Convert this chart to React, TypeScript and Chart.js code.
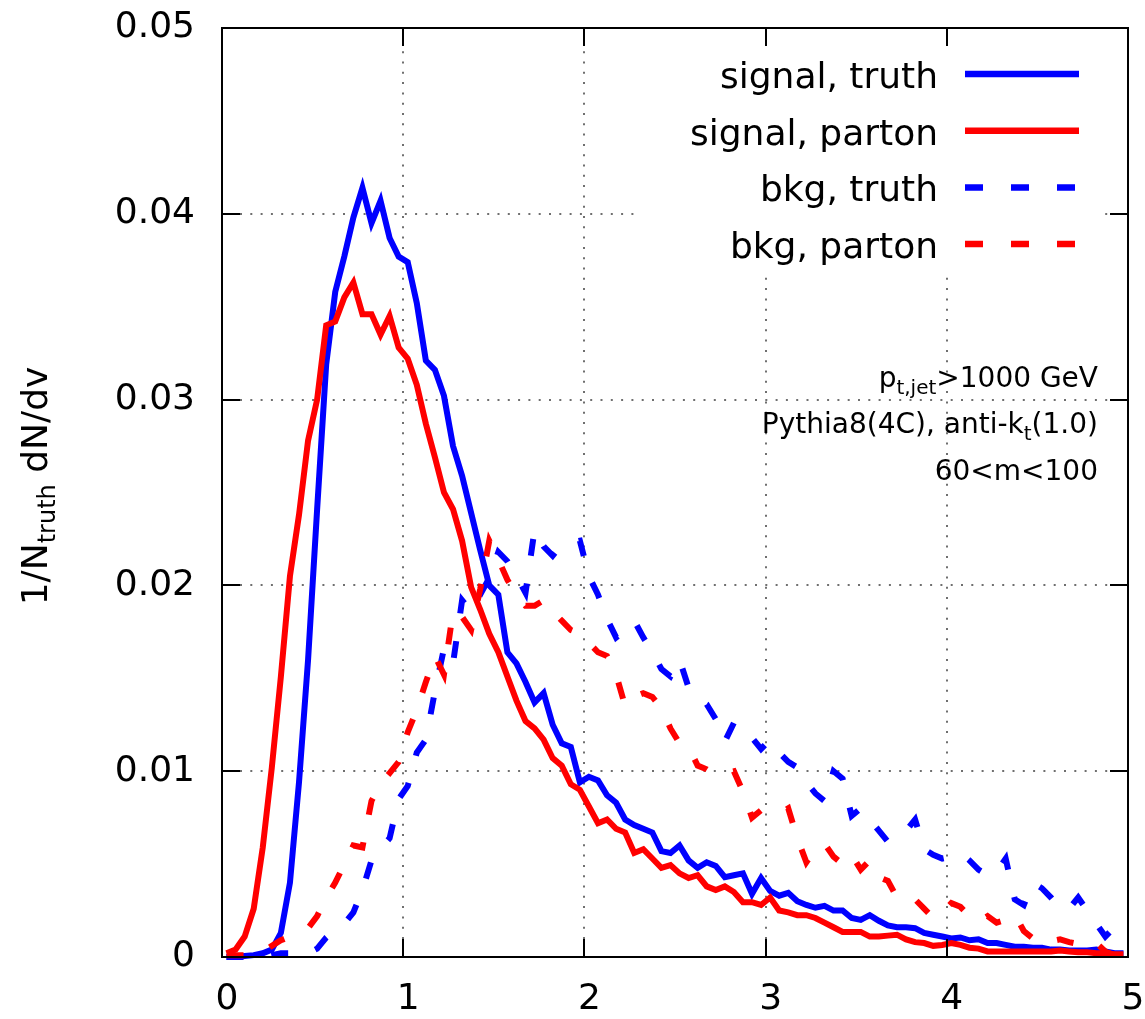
import React, { useEffect, useRef } from "react";
import { Chart, registerables } from "chart.js";

Chart.register(...registerables);

// bin centres of v
const vBins = [
  0.025, 0.075, 0.125, 0.175, 0.225, 0.275, 0.325, 0.375, 0.425, 0.475,
  0.525, 0.575, 0.625, 0.675, 0.725, 0.775, 0.825, 0.875, 0.925, 0.975,
  1.025, 1.075, 1.125, 1.175, 1.225, 1.275, 1.325, 1.375, 1.425, 1.475,
  1.525, 1.575, 1.625, 1.675, 1.725, 1.775, 1.825, 1.875, 1.925, 1.975,
  2.025, 2.075, 2.125, 2.175, 2.225, 2.275, 2.325, 2.375, 2.425, 2.475,
  2.525, 2.575, 2.625, 2.675, 2.725, 2.775, 2.825, 2.875, 2.925, 2.975,
  3.025, 3.075, 3.125, 3.175, 3.225, 3.275, 3.325, 3.375, 3.425, 3.475,
  3.525, 3.575, 3.625, 3.675, 3.725, 3.775, 3.825, 3.875, 3.925, 3.975,
  4.025, 4.075, 4.125, 4.175, 4.225, 4.275, 4.325, 4.375, 4.425, 4.475,
  4.525, 4.575, 4.625, 4.675, 4.725, 4.775, 4.825, 4.875, 4.925, 4.975,
];

const signalTruth = [
  0, 0, 0.00005, 0.0001, 0.0002, 0.0004, 0.0013, 0.004, 0.0094, 0.016,
  0.0241, 0.0319, 0.0358, 0.0377, 0.0398, 0.0414, 0.0395, 0.0407, 0.0387, 0.0377,
  0.0374, 0.0352, 0.0321, 0.0316, 0.0302, 0.0275, 0.0259, 0.0239, 0.0219, 0.02,
  0.0195, 0.0164, 0.0158, 0.0148, 0.0137, 0.0142, 0.0125, 0.0115, 0.0113, 0.0094,
  0.0097, 0.0095, 0.0087, 0.0083, 0.0074, 0.0071, 0.0069, 0.0067, 0.0057, 0.0056,
  0.006, 0.0052, 0.0048, 0.0051, 0.0049, 0.0043, 0.0044, 0.0045, 0.0034, 0.00425,
  0.00355, 0.0033, 0.00345, 0.003, 0.0028, 0.00265, 0.00275, 0.0025, 0.0025, 0.0021,
  0.002, 0.00225, 0.00195, 0.0017, 0.0016, 0.0016, 0.00155, 0.0013, 0.0012, 0.0011,
  0.001, 0.00105, 0.0009, 0.00095, 0.00075, 0.00075, 0.00065, 0.00055, 0.00055, 0.0005,
  0.0005, 0.0004, 0.0004, 0.00035, 0.00035, 0.00035, 0.0004, 0.0003, 0.0002, 0.0002,
];

const signalParton = [
  0.0002, 0.0004, 0.0011, 0.0026, 0.0059, 0.0102, 0.0151, 0.0205, 0.0238, 0.0278,
  0.03, 0.034, 0.0342, 0.0355, 0.0363, 0.0346, 0.0346, 0.0335, 0.0345, 0.0328,
  0.0322, 0.0308, 0.0287, 0.0269, 0.025, 0.0241, 0.0224, 0.0199, 0.0187, 0.0174,
  0.0164, 0.0151, 0.0138, 0.0127, 0.0123, 0.0117, 0.0107, 0.0103, 0.0093, 0.009,
  0.0081, 0.0072, 0.0074, 0.0069, 0.0067, 0.0056, 0.0058, 0.0053, 0.0048, 0.00495,
  0.0045, 0.00425, 0.0044, 0.0038, 0.0036, 0.0038, 0.0035, 0.00295, 0.00295, 0.0028,
  0.0032, 0.0025, 0.0024, 0.00225, 0.00225, 0.0021, 0.00185, 0.0016, 0.00135, 0.00135,
  0.00135, 0.0011, 0.0011, 0.00115, 0.0012, 0.00095, 0.0008, 0.00075, 0.0006, 0.00065,
  0.00075, 0.00065, 0.0005, 0.00045, 0.0003, 0.0003, 0.0003, 0.0003, 0.0003, 0.0003,
  0.0003, 0.0003, 0.00035, 0.0003, 0.00025, 0.00025, 0.0002, 0.0002, 0.00015, 0.00015,
];

const bkgTruth = [
  0, 0, 0, 0, 0, 0.0001, 0.0002, 0.0002, 0.00015, 0.0002,
  0.00045, 0.00105, 0.0015, 0.0018, 0.0024, 0.0036, 0.0052, 0.0058, 0.0064, 0.0085,
  0.0092, 0.011, 0.0117, 0.0143, 0.0166, 0.0158, 0.0192, 0.0186, 0.0195, 0.0204,
  0.0218, 0.0213, 0.0205, 0.0196, 0.023, 0.0221, 0.0216, 0.0222, 0.0223, 0.0224,
  0.0205, 0.0195, 0.0182, 0.0172, 0.0176, 0.0181, 0.0172, 0.0164, 0.0155, 0.0151,
  0.016, 0.0145, 0.0139, 0.0136, 0.0128, 0.0116, 0.0126, 0.0125, 0.0118, 0.0112,
  0.0117, 0.011, 0.0105, 0.0102, 0.0094, 0.0088, 0.0084, 0.01, 0.0096, 0.0076,
  0.008, 0.0074, 0.0068, 0.0062, 0.0065, 0.0068, 0.0074, 0.0058, 0.0055, 0.0053,
  0.0054, 0.0056, 0.0052, 0.0047, 0.0044, 0.0046, 0.0053, 0.0031, 0.0028, 0.004,
  0.0037, 0.0032, 0.0026, 0.0026, 0.0032, 0.0025, 0.0018, 0.0011, 0.0016, 0.0022,
];

const bkgParton = [
  0.0001, 0.0001, 0.0001, 0.0001, 0.0003, 0.0006, 0.0009, 0.0011, 0.0013, 0.00155,
  0.0022, 0.0032, 0.004, 0.005, 0.006, 0.0059, 0.0084, 0.0093, 0.0099, 0.0105,
  0.0121, 0.0133, 0.0148, 0.0162, 0.0152, 0.0186, 0.0183, 0.0176, 0.0198, 0.0224,
  0.0214, 0.0203, 0.0195, 0.0189, 0.0189, 0.0192, 0.0186, 0.0181, 0.0176, 0.0174,
  0.0169, 0.0164, 0.0162, 0.0152, 0.0135, 0.014, 0.0142, 0.014, 0.0134, 0.0123,
  0.0115, 0.0113, 0.0103, 0.0101, 0.0098, 0.0099, 0.01, 0.0089, 0.0075, 0.0079,
  0.0077, 0.0077, 0.008, 0.0064, 0.0051, 0.0058, 0.0061, 0.0054, 0.005, 0.0055,
  0.0047, 0.0052, 0.0043, 0.0041, 0.0032, 0.0033, 0.0031, 0.0026, 0.0021, 0.0024,
  0.0029, 0.0027, 0.0022, 0.0019, 0.0022, 0.00185, 0.002, 0.0023, 0.0014, 0.001,
  0.0007, 0.00085, 0.00095, 0.0008, 0.0007, 0.0009, 0.00075, 0.0003, 0.0001, 0.00005,
];

const seriesNames = ["signal, truth", "signal, parton", "bkg, truth", "bkg, parton"];
const xTicks = [0, 1, 2, 3, 4, 5];
const xTickLabels = ["0", "1", "2", "3", "4", "5"];
const yTicks = [0, 0.01, 0.02, 0.03, 0.04, 0.05];
const yTickLabels = ["0", "0.01", "0.02", "0.03", "0.04", "0.05"];

const W = 1145;
const H = 1019;
const FONT = '"DejaVu Sans", "Liberation Sans", sans-serif';

type Part = { t: string; sub?: boolean };

function drawParts(ctx: CanvasRenderingContext2D, parts: Part[], x: number, y: number, size: number, subSize: number, subDy: number, align: "left" | "right" | "center") {
  const widths = parts.map((p) => {
    ctx.font = `${p.sub ? subSize : size}px ${FONT}`;
    return ctx.measureText(p.t).width;
  });
  const total = widths.reduce((a, b) => a + b, 0);
  let cx = align === "left" ? x : align === "right" ? x - total : x - total / 2;
  ctx.textAlign = "left";
  ctx.textBaseline = "alphabetic";
  parts.forEach((p, i) => {
    ctx.font = `${p.sub ? subSize : size}px ${FONT}`;
    ctx.fillText(p.t, cx, y + (p.sub ? subDy : 0));
    cx += widths[i];
  });
}

function zeroPad(s: any) {
  s.paddingTop = 0;
  s.paddingBottom = 0;
  s.paddingLeft = 0;
  s.paddingRight = 0;
}

export default function App() {
  const ref = useRef<HTMLCanvasElement>(null);

  useEffect(() => {
    const canvas = ref.current;
    if (!canvas) return;
    const colors = ["#0000ff", "#ff0000", "#0000ff", "#ff0000"];
    const dashes = [[], [], [17, 28], [17, 28]];
    const seriesValues = [signalTruth, signalParton, bkgTruth, bkgParton];

    const datasets = seriesValues.map((vals, i) => ({
      label: seriesNames[i],
      data: vals.map((y, k) => ({ x: vBins[k], y })),
      borderColor: colors[i],
      backgroundColor: colors[i],
      borderWidth: 6,
      borderDash: dashes[i],
      borderCapStyle: "butt" as const,
      borderJoinStyle: "miter" as const,
      pointRadius: 0,
      pointHoverRadius: 0,
      fill: false,
      tension: 0,
      order: 4 - i,
      clip: false as any,
    }));

    const framePlugin = {
      id: "frame",
      beforeDatasetsDraw(chart: any) {
        const { ctx, chartArea: a, scales } = chart;
        const xs = scales.x;
        const ys = scales.y;
        ctx.save();
        ctx.strokeStyle = "#404040";
        ctx.lineWidth = 1.5;
        ctx.setLineDash([2, 8.3]);
        xTicks.slice(1, -1).forEach((v) => {
          const px = Math.round(xs.getPixelForValue(v));
          ctx.beginPath();
          ctx.moveTo(px, a.bottom - 18);
          ctx.lineTo(px, a.top + 18);
          ctx.stroke();
        });
        yTicks.slice(1, -1).forEach((v) => {
          const py = Math.round(ys.getPixelForValue(v));
          ctx.beginPath();
          ctx.moveTo(a.left + 18, py);
          ctx.lineTo(a.right - 18, py);
          ctx.stroke();
        });
        ctx.setLineDash([]);
        // opaque key box
        ctx.fillStyle = "#ffffff";
        ctx.fillRect(640, a.top + 19, 460, 223);
        ctx.restore();
      },
      afterDatasetsDraw(chart: any) {
        const { ctx, chartArea: a, scales } = chart;
        const xs = scales.x;
        const ys = scales.y;
        ctx.save();
        ctx.setLineDash([]);
        ctx.strokeStyle = "#000";
        ctx.lineWidth = 2;
        ctx.strokeRect(a.left, a.top, a.right - a.left, a.bottom - a.top);
        const tl = 18;
        ctx.beginPath();
        xTicks.forEach((v) => {
          const px = Math.round(xs.getPixelForValue(v));
          ctx.moveTo(px, a.bottom);
          ctx.lineTo(px, a.bottom - tl);
          ctx.moveTo(px, a.top);
          ctx.lineTo(px, a.top + tl);
        });
        yTicks.forEach((v) => {
          const py = Math.round(ys.getPixelForValue(v));
          ctx.moveTo(a.left, py);
          ctx.lineTo(a.left + tl, py);
          ctx.moveTo(a.right, py);
          ctx.lineTo(a.right - tl, py);
        });
        ctx.stroke();

        // legend (key)
        ctx.fillStyle = "#000";
        chart.data.datasets.forEach((ds: any, i: number) => {
          const ly = 74 + i * 56.7;
          ctx.font = `36px ${FONT}`;
          ctx.textAlign = "right";
          ctx.textBaseline = "alphabetic";
          ctx.fillText(ds.label, 938, ly + 14);
          ctx.strokeStyle = ds.borderColor;
          ctx.lineWidth = 6.5;
          ctx.lineCap = "butt";
          ctx.setLineDash(ds.borderDash && ds.borderDash.length ? [18, 28] : []);
          ctx.beginPath();
          ctx.moveTo(965, ly);
          ctx.lineTo(1079, ly);
          ctx.stroke();
          ctx.setLineDash([]);
        });

        // annotations
        ctx.fillStyle = "#000";
        drawParts(ctx, [{ t: "p" }, { t: "t,jet", sub: true }, { t: ">1000 GeV" }], 1098, 387, 28, 20, 7, "right");
        drawParts(ctx, [{ t: "Pythia8(4C), anti-k" }, { t: "t", sub: true }, { t: "(1.0)" }], 1098, 433, 28, 20, 7, "right");
        drawParts(ctx, [{ t: "60<m<100" }], 1098, 480, 28, 20, 7, "right");

        // y-axis title
        ctx.save();
        ctx.translate(47, 486);
        ctx.rotate(-Math.PI / 2);
        drawParts(ctx, [{ t: "1/N" }, { t: "truth", sub: true }, { t: " dN/dv" }], 0, 0, 36, 24, 8, "center");
        ctx.restore();
        ctx.restore();
      },
    };

    const chart = new Chart(canvas, {
      type: "line",
      data: { datasets: datasets as any },
      options: {
        animation: false,
        responsive: false,
        maintainAspectRatio: false,
        devicePixelRatio: 1,
        layout: { padding: { top: 28, right: 17, left: 0, bottom: 0 } },
        plugins: { legend: { display: false }, tooltip: { enabled: false } },
        events: [],
        scales: {
          x: {
            type: "linear",
            min: 0,
            max: 5,
            afterBuildTicks: (s: any) => {
              s.ticks = xTicks.map((v) => ({ value: v }));
            },
            afterFit: (s: any) => {
              s.height = 62;
              zeroPad(s);
            },
            grid: { display: false, drawTicks: false },
            border: { display: false },
            ticks: {
              padding: 21,
              labelOffset: 5,
              color: "#000",
              font: { family: FONT, size: 36 },
              maxRotation: 0,
              autoSkip: false,
              callback: (_v: any, i: number) => xTickLabels[i],
            },
          },
          y: {
            type: "linear",
            min: 0,
            max: 0.05,
            afterBuildTicks: (s: any) => {
              s.ticks = yTicks.map((v) => ({ value: v }));
            },
            afterFit: (s: any) => {
              s.width = 222;
              zeroPad(s);
            },
            grid: { display: false, drawTicks: false },
            border: { display: false },
            ticks: {
              padding: 27,
              color: "#000",
              font: { family: FONT, size: 36 },
              autoSkip: false,
              callback: (_v: any, i: number) => yTickLabels[i],
            },
          },
        },
      },
      plugins: [framePlugin],
    } as any);

    return () => chart.destroy();
  }, []);

  return (
    <div style={{ position: "fixed", left: 0, top: 0, width: W, height: H, background: "#fff" }}>
      <canvas ref={ref} width={W} height={H} style={{ width: W, height: H, display: "block" }} />
    </div>
  );
}
